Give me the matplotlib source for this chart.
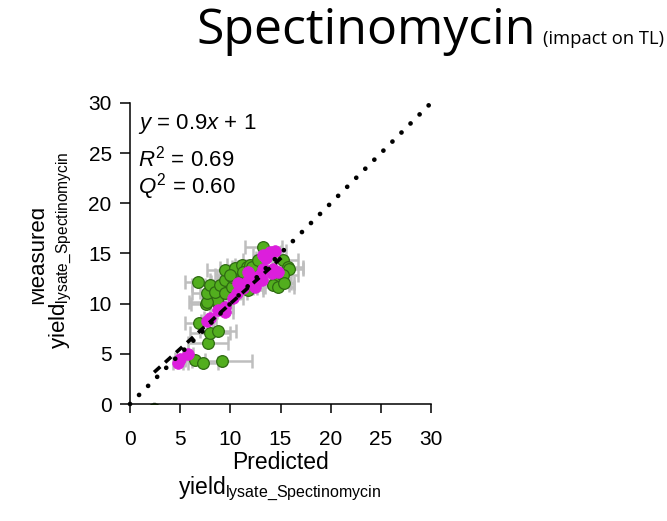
import matplotlib
matplotlib.use("Agg")
import matplotlib.pyplot as plt
from matplotlib.transforms import Bbox

plt.rcParams['font.family'] = ['Liberation Sans', 'DejaVu Sans']
plt.rcParams['mathtext.fontset'] = 'custom'
plt.rcParams['mathtext.rm'] = 'Liberation Sans'
plt.rcParams['mathtext.it'] = 'Liberation Sans:italic'
plt.rcParams['mathtext.bf'] = 'Liberation Sans:bold'

# ---- data ----
green_pred = [2.4, 6.5, 7.3, 9.2, 7.8, 8.0, 8.8, 6.9, 7.6, 8.8, 8.7, 7.7, 6.8, 7.7, 8.0,
              8.5, 9.0, 9.5, 9.5, 9.5, 10.2, 10.2, 10.5, 11.2, 11.7, 11.2, 11.3, 11.2,
              11.8, 12.0, 12.2, 12.8, 13.3, 14.5, 14.3, 14.8, 15.2, 15.7, 15.8, 15.2,
              15.3, 10.0]
green_meas = [-0.5, 4.4, 4.1, 4.3, 6.1, 7.1, 7.3, 8.1, 10.0, 10.1, 10.4, 10.2, 12.2, 11.1,
              11.9, 11.2, 11.9, 11.1, 12.4, 13.4, 11.7, 12.7, 13.6, 13.9, 13.7, 12.4,
              13.2, 11.6, 11.4, 13.9, 13.7, 14.4, 15.6, 12.1, 11.9, 11.7, 14.4, 13.7,
              13.5, 12.9, 12.1, 12.9]
green_err = [0.0, 1.0, 1.5, 3.0, 2.0, 2.0, 1.8, 1.4, 1.5, 1.2, 1.5, 1.8, 1.3, 1.5, 1.8,
             1.5, 1.5, 1.5, 1.5, 1.8, 1.5, 1.5, 1.5, 1.5, 1.5, 1.5, 1.2, 1.5, 1.5, 1.5,
             1.5, 1.5, 1.8, 1.5, 1.5, 1.5, 1.5, 1.5, 1.4, 1.5, 1.0, 1.5]

mag_pred = [4.8, 5.0, 5.8, 7.7, 8.0, 9.5, 8.8, 9.5, 10.3, 10.7, 10.8, 11.3, 11.7, 11.8,
            12.2, 12.5, 13.0, 13.2, 13.3, 14.2, 14.3, 14.8, 13.6, 13.3, 14.0, 14.5]
mag_meas = [4.1, 4.5, 5.0, 8.3, 8.6, 9.2, 9.4, 9.7, 10.6, 11.1, 12.1, 11.6, 12.2, 13.2,
            12.7, 11.7, 12.9, 12.4, 13.5, 13.1, 13.5, 13.2, 14.6, 14.9, 15.1, 15.2]
mag_err = [0.5, 0.5, 0.5, 0.6, 0.6, 0.8, 0.8, 0.8, 1.0, 1.0, 1.0, 1.0, 1.0, 1.0,
           1.0, 1.0, 1.0, 1.0, 1.0, 1.0, 1.0, 1.0, 1.0, 1.0, 1.0, 1.0]

identity_x = [0, 30]
fit_x = [2.4, 15.4]
fit_slope, fit_intercept = 0.9, 1.0

x_ticks = [0, 5, 10, 15, 20, 25, 30]
y_ticks = [0, 5, 10, 15, 20, 25, 30]

W, H = 667, 521
fig = plt.figure(figsize=(W / 100, H / 100), dpi=100)
ax = fig.add_axes([130 / W, (H - 404) / H, 301 / W, 301 / H])


def fx(px):
    return px / W


def fy(py):
    return (H - py) / H


# error bars
ax.errorbar(green_pred, green_meas, xerr=green_err, fmt='none', ecolor='#BEBEBE',
            elinewidth=1.8, capsize=5, capthick=1.8, zorder=1)
ax.errorbar(mag_pred, mag_meas, xerr=mag_err, fmt='none', ecolor='#BEBEBE',
            elinewidth=1.8, capsize=5, capthick=1.8, zorder=1)
# markers
ax.plot(green_pred, green_meas, 'o', ms=8.4, mfc='#52AE1E', mec='#2E6A12', mew=0.9,
        zorder=2)
ax.plot(mag_pred, mag_meas, 'o', ms=8.4, mfc='#DC1EDC', mec='#DC1EDC', mew=0.5,
        zorder=3)

# identity dotted line
ax.plot(identity_x, identity_x, color='black', lw=3.4, linestyle=(0, (0.01, 2.7)),
        dash_capstyle='round', zorder=4, clip_on=False)
# fit dashed line
fit_y = [fit_slope * v + fit_intercept for v in fit_x]
ax.plot(fit_x, fit_y, color='black', lw=2.6, linestyle=(0, (2.3, 1.8)), zorder=5)

ax.set_xlim(0, 30)
ax.set_ylim(0, 30)
ax.set_xticks(x_ticks)
ax.set_yticks(y_ticks)
for s in ['top', 'right']:
    ax.spines[s].set_visible(False)
for s in ['left', 'bottom']:
    ax.spines[s].set_linewidth(1.1)
ax.tick_params(axis='x', length=6.5, width=1.1, pad=12, labelsize=15)
ax.tick_params(axis='y', length=7.2, width=1.1, pad=6, labelsize=15)

# annotations
ax.text(0.027, 0.915, r'$y$ = 0.9$x$ + 1', transform=ax.transAxes, fontsize=16,
        ha='left', va='baseline')
ax.text(0.027, 0.79, r'$R^2$ = 0.69', transform=ax.transAxes, fontsize=16,
        ha='left', va='baseline')
ax.text(0.027, 0.70, r'$Q^2$ = 0.60', transform=ax.transAxes, fontsize=16,
        ha='left', va='baseline')

# x labels
fig.text(fx(281), fy(469), 'Predicted', fontsize=16.5, ha='center', va='baseline')
fig.text(fx(280), fy(494), r'yield$_{\rm lysate\_Spectinomycin}$', fontsize=16.5,
         ha='center', va='baseline')

# y labels
t = fig.text(fx(43), fy(254), 'Measured', fontsize=16, rotation=90,
             rotation_mode='anchor', ha='center', va='baseline')
t.set_clip_box(Bbox.from_extents(32, 0, 200, H))
t.set_clip_on(True)
fig.text(fx(65), fy(250), r'yield$_{\rm lysate\_Spectinomycin}$', fontsize=16,
         rotation=90, rotation_mode='anchor', ha='center', va='baseline')

# title
fig.text(fx(196), fy(44), 'Spectinomycin', fontsize=36, family='Open Sans',
         ha='left', va='baseline')
fig.text(fx(543), fy(44), '(impact on TL)', fontsize=13.2, family='Open Sans',
         ha='left', va='baseline')

fig.savefig('out.png', dpi=100)
